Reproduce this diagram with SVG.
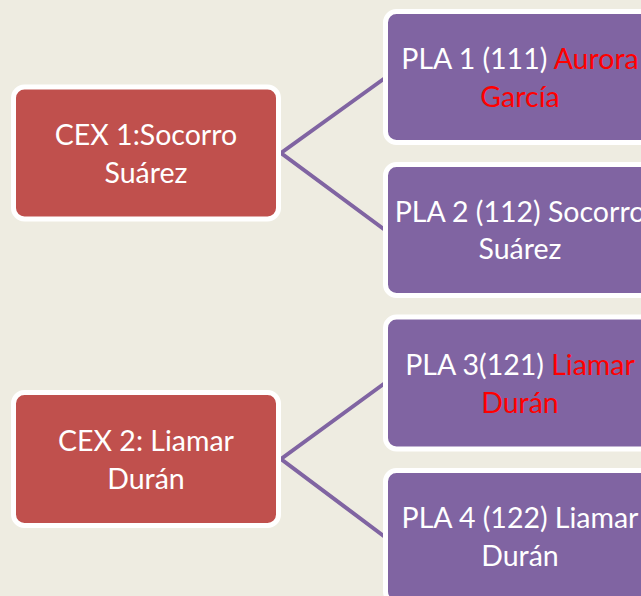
<svg xmlns="http://www.w3.org/2000/svg" width="641" height="596" viewBox="0 0 641 596">
<style>
.cex{fill:#C0504D;stroke:#FFFFFF;stroke-width:5}
.pla{fill:#8064A2;stroke:#FFFFFF;stroke-width:5}
.t{font-family:Lato,"Liberation Sans",sans-serif;font-size:28.5px;fill:#FFFFFF;text-anchor:middle}
.r{fill:#FF0000}
.c{fill:none;stroke:#8064A2;stroke-width:4;stroke-linejoin:miter}
</style>
<rect width="641" height="596" fill="#EEECE1"/>
<g id="connectors">
<polyline class="c" points="385,78 281,153 385,230"/>
<polyline class="c" points="385,383 281,459 385,537"/>
</g>
<g id="cex1">
<rect class="cex" x="13.5" y="87" width="265" height="132" rx="11"/>
<text class="t" x="146" y="145">CEX 1:Socorro</text>
<text class="t" x="146" y="183">Suárez</text>
</g>
<g id="cex2">
<rect class="cex" x="13.5" y="392.5" width="265" height="133" rx="11"/>
<text class="t" x="146" y="451">CEX 2: Liamar</text>
<text class="t" x="146" y="489">Durán</text>
</g>
<g id="pla1">
<rect class="pla" x="385.5" y="11.5" width="265" height="131" rx="11"/>
<text class="t" x="520" y="69">PLA 1 (111) <tspan class="r">Aurora</tspan></text>
<text class="t r" x="520" y="107">García</text>
</g>
<g id="pla2">
<rect class="pla" x="385.5" y="164.5" width="265" height="131" rx="11"/>
<text class="t" x="520" y="222">PLA 2 (112) Socorro</text>
<text class="t" x="520" y="259">Suárez</text>
</g>
<g id="pla3">
<rect class="pla" x="385.5" y="317" width="265" height="132" rx="11"/>
<text class="t" x="520" y="375">PLA 3(121) <tspan class="r">Liamar</tspan></text>
<text class="t r" x="520" y="413">Durán</text>
</g>
<g id="pla4">
<rect class="pla" x="385.5" y="470.5" width="265" height="132" rx="11"/>
<text class="t" x="520" y="528">PLA 4 (122) Liamar</text>
<text class="t" x="520" y="566">Durán</text>
</g>
</svg>
